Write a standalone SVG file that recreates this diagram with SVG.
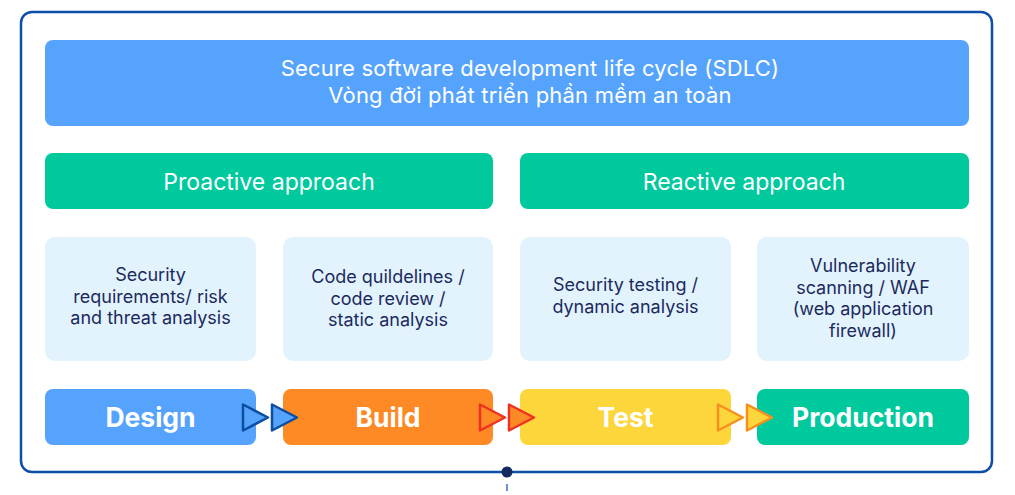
<svg xmlns="http://www.w3.org/2000/svg" width="1015" height="495" viewBox="0 0 1015 495">
<style>
.wt{font-family:Inter,"Liberation Sans",sans-serif;fill:#ffffff;text-anchor:middle;font-size:22px;letter-spacing:0.2px}
.gt{font-family:Inter,"Liberation Sans",sans-serif;fill:#ffffff;text-anchor:middle;font-size:23px}
.dt{font-family:Inter,"Liberation Sans",sans-serif;fill:#1b2a5e;text-anchor:middle;font-size:18px}
.bt{font-family:Inter,"Liberation Sans",sans-serif;fill:#ffffff;text-anchor:middle;font-size:26.5px;font-weight:700}
.light{fill:#e3f3fd}
.tri{stroke-width:2.5;stroke-linejoin:round}
</style>
<defs>
<path id="tri" d="M0,-13 L0,13 L25,0 Z"/>
</defs>
<rect x="21" y="12" width="971" height="460" rx="11" fill="#ffffff" stroke="#0d4fa8" stroke-width="2.5"/>
<g id="sdlc">
<rect x="45" y="40" width="924" height="86" rx="8" fill="#56a3fd"/>
<text class="wt" x="530" y="76">Secure software development life cycle (SDLC)</text>
<text class="wt" x="530" y="103">Vòng đời phát triển phần mềm an toàn</text>
</g>
<g id="proactive">
<rect x="45" y="153" width="448" height="56" rx="8" fill="#00c99e"/>
<text class="gt" x="269" y="190">Proactive approach</text>
</g>
<g id="reactive">
<rect x="520" y="153" width="449" height="56" rx="8" fill="#00c99e"/>
<text class="gt" x="744" y="190">Reactive approach</text>
</g>
<g id="box-requirements">
<rect class="light" x="45" y="237" width="211" height="124" rx="10"/>
<text class="dt" x="150.5" y="281">Security</text>
<text class="dt" x="150.5" y="302.5">requirements/ risk</text>
<text class="dt" x="150.5" y="324">and threat analysis</text>
</g>
<g id="box-code">
<rect class="light" x="283" y="237" width="210" height="124" rx="10"/>
<text class="dt" x="388" y="283">Code quildelines /</text>
<text class="dt" x="388" y="304.5">code review /</text>
<text class="dt" x="388" y="326">static analysis</text>
</g>
<g id="box-testing">
<rect class="light" x="520" y="237" width="211" height="124" rx="10"/>
<text class="dt" x="625.5" y="291">Security testing /</text>
<text class="dt" x="625.5" y="312.5">dynamic analysis</text>
</g>
<g id="box-vuln">
<rect class="light" x="757" y="237" width="212" height="124" rx="10"/>
<text class="dt" x="863" y="272">Vulnerability</text>
<text class="dt" x="863" y="293.5">scanning / WAF</text>
<text class="dt" x="863" y="315">(web application</text>
<text class="dt" x="863" y="336.5">firewall)</text>
</g>
<g id="design">
<rect x="45" y="389" width="211" height="56" rx="8" fill="#56a3fd"/>
<text class="bt" x="150.5" y="427">Design</text>
</g>
<g id="build">
<rect x="283" y="389" width="210" height="56" rx="8" fill="#fd8a24"/>
<text class="bt" x="388" y="427">Build</text>
</g>
<g id="test">
<rect x="520" y="389" width="211" height="56" rx="8" fill="#fdd63b"/>
<text class="bt" x="625.5" y="427">Test</text>
</g>
<g id="production">
<rect x="757" y="389" width="212" height="56" rx="8" fill="#00c99e"/>
<text class="bt" x="863" y="427">Production</text>
</g>
<g id="connectors">
<use href="#tri" class="tri" x="243" y="417.5" fill="#56a3fd" stroke="#0b4ea2"/>
<use href="#tri" class="tri" x="272" y="417.5" fill="#56a3fd" stroke="#0b4ea2"/>
<use href="#tri" class="tri" x="480" y="417.5" fill="#fd8a24" stroke="#ef3124"/>
<use href="#tri" class="tri" x="509" y="417.5" fill="#fd8a24" stroke="#ef3124"/>
<use href="#tri" class="tri" x="718" y="417.5" fill="#fdd63b" stroke="#f78f1e"/>
<use href="#tri" class="tri" x="747" y="417.5" fill="#fdd63b" stroke="#f78f1e"/>
<circle cx="507" cy="472" r="5.5" fill="#152a5c"/>
<line x1="507" y1="484" x2="507" y2="491" stroke="#3a6fc2" stroke-width="1.5"/>
</g>
</svg>
